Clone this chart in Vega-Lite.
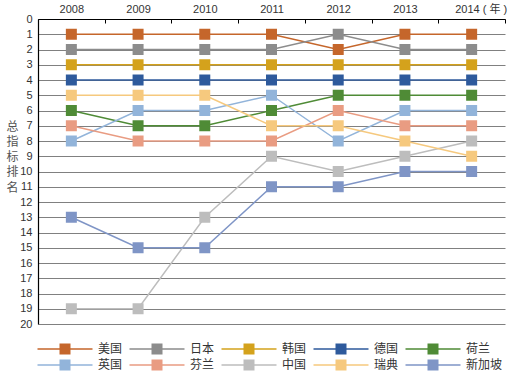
{
  "$schema": "https://vega.github.io/schema/vega-lite/v6.json",
  "autosize": "none",
  "padding": {"left": 38, "top": 19, "right": 14, "bottom": 56},
  "width": 467,
  "height": 305,
  "background": "white",
  "data": {"values": [
    {"country": "美国", "year": "2008", "rank": 1}, {"country": "美国", "year": "2009", "rank": 1}, {"country": "美国", "year": "2010", "rank": 1}, {"country": "美国", "year": "2011", "rank": 1}, {"country": "美国", "year": "2012", "rank": 2}, {"country": "美国", "year": "2013", "rank": 1}, {"country": "美国", "year": "2014", "rank": 1},
    {"country": "日本", "year": "2008", "rank": 2}, {"country": "日本", "year": "2009", "rank": 2}, {"country": "日本", "year": "2010", "rank": 2}, {"country": "日本", "year": "2011", "rank": 2}, {"country": "日本", "year": "2012", "rank": 1}, {"country": "日本", "year": "2013", "rank": 2}, {"country": "日本", "year": "2014", "rank": 2},
    {"country": "韩国", "year": "2008", "rank": 3}, {"country": "韩国", "year": "2009", "rank": 3}, {"country": "韩国", "year": "2010", "rank": 3}, {"country": "韩国", "year": "2011", "rank": 3}, {"country": "韩国", "year": "2012", "rank": 3}, {"country": "韩国", "year": "2013", "rank": 3}, {"country": "韩国", "year": "2014", "rank": 3},
    {"country": "德国", "year": "2008", "rank": 4}, {"country": "德国", "year": "2009", "rank": 4}, {"country": "德国", "year": "2010", "rank": 4}, {"country": "德国", "year": "2011", "rank": 4}, {"country": "德国", "year": "2012", "rank": 4}, {"country": "德国", "year": "2013", "rank": 4}, {"country": "德国", "year": "2014", "rank": 4},
    {"country": "荷兰", "year": "2008", "rank": 6}, {"country": "荷兰", "year": "2009", "rank": 7}, {"country": "荷兰", "year": "2010", "rank": 7}, {"country": "荷兰", "year": "2011", "rank": 6}, {"country": "荷兰", "year": "2012", "rank": 5}, {"country": "荷兰", "year": "2013", "rank": 5}, {"country": "荷兰", "year": "2014", "rank": 5},
    {"country": "英国", "year": "2008", "rank": 8}, {"country": "英国", "year": "2009", "rank": 6}, {"country": "英国", "year": "2010", "rank": 6}, {"country": "英国", "year": "2011", "rank": 5}, {"country": "英国", "year": "2012", "rank": 8}, {"country": "英国", "year": "2013", "rank": 6}, {"country": "英国", "year": "2014", "rank": 6},
    {"country": "芬兰", "year": "2008", "rank": 7}, {"country": "芬兰", "year": "2009", "rank": 8}, {"country": "芬兰", "year": "2010", "rank": 8}, {"country": "芬兰", "year": "2011", "rank": 8}, {"country": "芬兰", "year": "2012", "rank": 6}, {"country": "芬兰", "year": "2013", "rank": 7}, {"country": "芬兰", "year": "2014", "rank": 7},
    {"country": "中国", "year": "2008", "rank": 19}, {"country": "中国", "year": "2009", "rank": 19}, {"country": "中国", "year": "2010", "rank": 13}, {"country": "中国", "year": "2011", "rank": 9}, {"country": "中国", "year": "2012", "rank": 10}, {"country": "中国", "year": "2013", "rank": 9}, {"country": "中国", "year": "2014", "rank": 8},
    {"country": "瑞典", "year": "2008", "rank": 5}, {"country": "瑞典", "year": "2009", "rank": 5}, {"country": "瑞典", "year": "2010", "rank": 5}, {"country": "瑞典", "year": "2011", "rank": 7}, {"country": "瑞典", "year": "2012", "rank": 7}, {"country": "瑞典", "year": "2013", "rank": 8}, {"country": "瑞典", "year": "2014", "rank": 9},
    {"country": "新加坡", "year": "2008", "rank": 13}, {"country": "新加坡", "year": "2009", "rank": 15}, {"country": "新加坡", "year": "2010", "rank": 15}, {"country": "新加坡", "year": "2011", "rank": 11}, {"country": "新加坡", "year": "2012", "rank": 11}, {"country": "新加坡", "year": "2013", "rank": 10}, {"country": "新加坡", "year": "2014", "rank": 10}
  ]},
  "config": {
    "view": {"stroke": null},
    "font": "Liberation Sans, Noto Sans CJK SC"
  },
  "encoding": {
    "x": {
      "field": "year", "type": "ordinal",
      "scale": {"paddingInner": 0, "paddingOuter": 0},
      "axis": {
        "orient": "top", "title": null, "labelAngle": 0,
        "domainColor": "#000000", "domainWidth": 1,
        "tickBand": "extent", "tickColor": "#000000", "tickSize": -4, "tickWidth": 1,
        "labelPadding": 9, "labelFontSize": 11, "labelColor": "#333333",
        "labelFont": "Liberation Sans, Noto Sans CJK SC",
        "labelExpr": "datum.value == '2014' ? '2014 ( 年 )' : datum.label",
        "labelOffset": {"condition": {"test": "datum.value == '2014'", "value": 9}, "value": 0}
      }
    },
    "y": {
      "field": "rank", "type": "quantitative",
      "scale": {"domain": [0, 20], "reverse": true, "nice": false, "zero": false},
      "axis": {
        "values": [0, 1, 2, 3, 4, 5, 6, 7, 8, 9, 10, 11, 12, 13, 14, 15, 16, 17, 18, 19, 20],
        "grid": true, "gridColor": "#808080", "gridWidth": 1,
        "domainColor": "#000000", "domainWidth": 1.2,
        "ticks": false, "labelPadding": 6, "labelFontSize": 11, "labelColor": "#333333",
        "title": ["总", "指", "标", "排", "名"],
        "titleAngle": 0, "titleFont": "Noto Sans CJK SC", "titleFontSize": 12, "titleFontWeight": "normal",
        "titleColor": "#555555", "titleLineHeight": 15.25, "titleAlign": "center", "titleBaseline": "middle",
        "titleX": -26, "titleY": 107
      }
    },
    "color": {
      "field": "country", "type": "nominal",
      "scale": {
        "domain": ["美国", "日本", "韩国", "德国", "荷兰", "英国", "芬兰", "中国", "瑞典", "新加坡"],
        "range": ["#C5662B", "#8C8C8C", "#D4A21C", "#2E5A9C", "#4F8B36", "#92B4DA", "#E99C82", "#BDBDBD", "#F6C97E", "#7F95C6"]
      },
      "legend": {
        "orient": "none", "legendX": 21, "legendY": 324,
        "direction": "horizontal", "columns": 5, "gridAlign": "each",
        "title": null,
        "symbolType": "M-5,-0.12H5V0.12H-5Z M-1,-1H1V1H-1Z",
        "symbolSize": 121, "symbolStrokeWidth": 0, "symbolOpacity": 1,
        "labelOffset": 27, "columnPadding": 6, "rowPadding": 4,
        "labelFontSize": 12, "labelColor": "#333333", "labelFont": "Noto Sans CJK SC",
        "encode": {"symbols": {"update": {"fill": {"scale": "color", "field": "value"}, "strokeWidth": {"value": 0}, "opacity": {"value": 1}}}}
      }
    }
  },
  "layer": [
    {"mark": {"type": "line", "strokeWidth": 1.5}},
    {"mark": {"type": "point", "shape": "square", "filled": true, "size": 121, "opacity": 1}}
  ]
}
